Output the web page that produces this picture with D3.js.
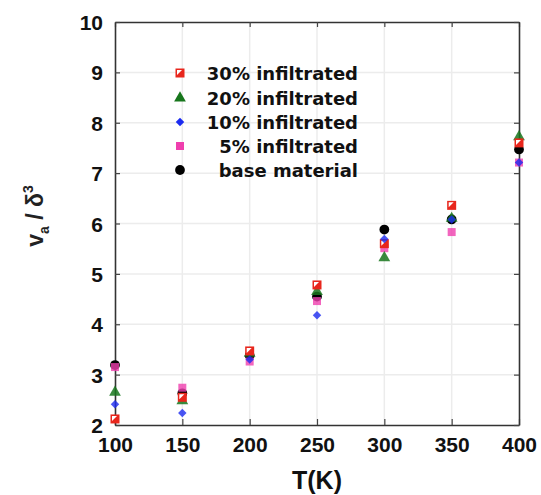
<!DOCTYPE html>
<html>
<head>
<meta charset="utf-8">
<script src="https://cdn.jsdelivr.net/npm/d3@7"></script>
<style>
	body { margin: 0; background: #fff; }
	svg { display: block; }
</style>
</head>
<body>
<svg id="chart" width="541" height="495"></svg>
<script>
// data
var temps = [100, 150, 200, 250, 300, 350, 400];
var inf30 = [2.12, 2.55, 3.47, 4.78, 5.60, 6.36, 7.60];
var inf20 = [2.65, 2.48, 3.42, 4.65, 5.32, 6.10, 7.72];
var inf10 = [2.41, 2.24, 3.30, 4.18, 5.69, 6.08, 7.21];
var inf5 = [3.15, 2.74, 3.26, 4.46, 5.51, 5.83, 7.21];
var base = [3.19, 2.63, 3.38, 4.55, 5.88, 6.08, 7.47];
var xTicks = [100, 150, 200, 250, 300, 350, 400];
var yTicks = [2, 3, 4, 5, 6, 7, 8, 9, 10];
var legendNames = ['30% infiltrated', '20% infiltrated', '10% infiltrated', '5% infiltrated', 'base material'];

var svg = d3.select('#chart');

var x = d3.scaleLinear().domain([100, 400]).range([115, 519]);
var y = d3.scaleLinear().domain([2, 10]).range([425, 22]);

// grid
svg.append('g')
	.selectAll('line')
	.data(xTicks.slice(1, -1))
	.join('line')
	.attr('x1', d => x(d)).attr('x2', d => x(d))
	.attr('y1', y(10)).attr('y2', y(2))
	.attr('stroke', '#ececec')
	.attr('stroke-width', 1.5);

svg.append('g')
	.selectAll('line')
	.data(yTicks.slice(1, -1))
	.join('line')
	.attr('x1', x(100)).attr('x2', x(400))
	.attr('y1', d => y(d)).attr('y2', d => y(d))
	.attr('stroke', '#ececec')
	.attr('stroke-width', 1.5);

// axes, ticks inside the box
var tickFont = 'Liberation Sans, Arial, sans-serif';

var xb = svg.append('g')
	.attr('transform', 'translate(0,' + y(2) + ')')
	.call(d3.axisBottom(x).tickValues(xTicks).tickSizeInner(-6).tickSizeOuter(0).tickPadding(12));
var xt = svg.append('g')
	.attr('transform', 'translate(0,' + y(10) + ')')
	.call(d3.axisTop(x).tickValues(xTicks).tickSizeInner(-5).tickSizeOuter(0).tickFormat(''));
var yl = svg.append('g')
	.attr('transform', 'translate(' + x(100) + ',0)')
	.call(d3.axisLeft(y).tickValues(yTicks).tickSizeInner(-5).tickSizeOuter(0).tickPadding(12));
var yr = svg.append('g')
	.attr('transform', 'translate(' + x(400) + ',0)')
	.call(d3.axisRight(y).tickValues(yTicks).tickSizeInner(-5).tickSizeOuter(0).tickFormat(''));

[xb, xt, yl, yr].forEach(function (g) {
	g.select('.domain').attr('stroke', '#333').attr('stroke-width', 1.6);
	g.selectAll('.tick line').attr('stroke', '#444').attr('stroke-width', 1.2);
	g.selectAll('.tick text')
		.attr('fill', '#111')
		.style('font-family', tickFont)
		.style('font-weight', 'bold')
		.style('font-size', '21px');
});
xb.selectAll('.tick text').attr('dy', '0.71em');
yl.selectAll('.tick text').attr('dy', '0.36em');

// axis titles
svg.append('text')
	.attr('x', 317)
	.attr('y', 489)
	.attr('text-anchor', 'middle')
	.style('font-family', tickFont)
	.style('font-weight', 'bold')
	.style('font-size', '25px')
	.attr('fill', '#111')
	.text('T(K)');

var ylab = svg.append('text')
	.attr('transform', 'translate(43,216) rotate(-90)')
	.attr('text-anchor', 'middle')
	.style('font-family', tickFont)
	.style('font-size', '23px')
	.style('font-weight', 'bold')
	.attr('fill', '#222');
ylab.append('tspan').text('v');
ylab.append('tspan').attr('dy', 6).style('font-size', '14px').text('a');
ylab.append('tspan').attr('dy', -6).text(' / \u03b4');
ylab.append('tspan').attr('dy', -10).style('font-size', '14px').text('3');

// markers
var red = '#e8261c', green = '#17761c', blue = '#1b2bf0', pink = '#ef3fae';

function halfSquare(g, cx, cy, s) {
	g.append('rect')
		.attr('x', cx - s / 2).attr('y', cy - s / 2)
		.attr('width', s).attr('height', s)
		.attr('fill', red);
	g.append('path')
		.attr('d', 'M' + (cx - s / 2 + 1.5) + ',' + (cy - s / 2 + 1.5) + ' l' + (s - 4) + ',0 l' + (-(s - 4)) + ',' + (s - 4) + 'z')
		.attr('fill', '#fff');
}

var sym = {
	tri: d3.symbol().type(d3.symbolTriangle).size(60),
	dia: d3.symbol().type(d3.symbolSquare).size(36),
	sq: d3.symbol().type(d3.symbolSquare).size(64),
	circ: d3.symbol().type(d3.symbolCircle).size(75)
};

var pts = svg.append('g');

pts.selectAll('.base')
	.data(base)
	.join('path')
	.attr('class', 'base')
	.attr('transform', (d, i) => 'translate(' + x(temps[i]) + ',' + y(d) + ')')
	.attr('d', sym.circ)
	.attr('fill', '#000');

pts.selectAll('.p5')
	.data(inf5)
	.join('path')
	.attr('class', 'p5')
	.attr('transform', (d, i) => 'translate(' + x(temps[i]) + ',' + y(d) + ')')
	.attr('d', sym.sq)
	.attr('fill', pink)
	.attr('opacity', 0.8);

pts.selectAll('.p20')
	.data(inf20)
	.join('path')
	.attr('class', 'p20')
	.attr('transform', (d, i) => 'translate(' + x(temps[i]) + ',' + y(d) + ')')
	.attr('d', sym.tri)
	.attr('fill', green)
	.attr('opacity', 0.85);

inf30.forEach(function (d, i) {
	halfSquare(pts, x(temps[i]), y(d), 9);
});

pts.selectAll('.p10')
	.data(inf10)
	.join('path')
	.attr('class', 'p10')
	.attr('transform', (d, i) => 'translate(' + x(temps[i]) + ',' + y(d) + ') rotate(45)')
	.attr('d', sym.dia)
	.attr('fill', blue)
	.attr('opacity', 0.8);

// legend
var leg = svg.append('g');
var rowY = [73, 98, 122, 146, 170];

leg.selectAll('text')
	.data(legendNames)
	.join('text')
	.attr('x', 358)
	.attr('y', (d, i) => rowY[i] + 6.5)
	.attr('text-anchor', 'end')
	.style('font-family', 'DejaVu Sans, sans-serif')
	.style('font-weight', 'bold')
	.style('font-size', '18px')
	.attr('fill', '#111')
	.text(d => d);

halfSquare(leg, 180, rowY[0], 9);
leg.append('path').attr('transform', 'translate(180,' + rowY[1] + ')').attr('d', sym.tri).attr('fill', green);
leg.append('path').attr('transform', 'translate(180,' + rowY[2] + ') rotate(45)').attr('d', sym.dia).attr('fill', blue);
leg.append('path').attr('transform', 'translate(180,' + rowY[3] + ')').attr('d', sym.sq).attr('fill', pink);
leg.append('path').attr('transform', 'translate(180,' + rowY[4] + ')').attr('d', sym.circ).attr('fill', '#000');
</script>
</body>
</html>
